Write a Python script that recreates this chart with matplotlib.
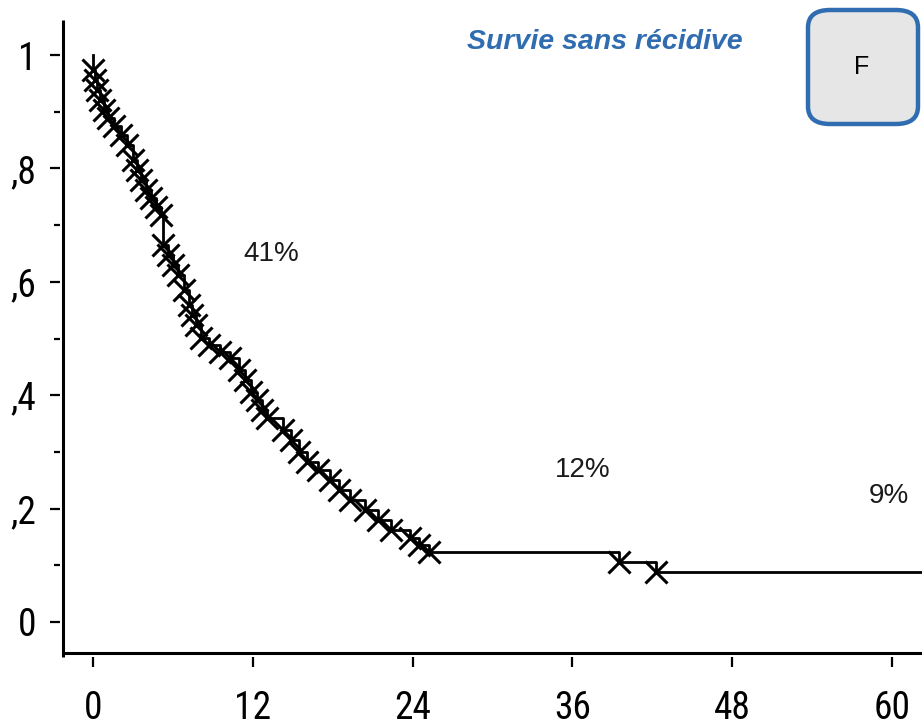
import matplotlib
matplotlib.use("Agg")
import matplotlib.pyplot as plt
import numpy as np
from matplotlib.patches import FancyBboxPatch
from matplotlib import font_manager

# ---- data ----
step_times = [0, 0, 0.15, 0.3, 0.53, 0.83, 1.13, 1.58, 2.1, 2.55, 3.0, 3.3, 3.6, 4.0, 4.35, 4.73,
              5.1, 5.26, 5.63, 6.0, 6.4, 6.83, 7.2, 7.43, 7.73, 8.1, 8.7, 9.5, 10.3, 11.0, 11.4,
              11.9, 12.3, 12.7, 13.1, 14.3, 14.9, 15.5, 16.1, 16.9, 17.8, 18.5, 19.3, 20.4, 21.4,
              22.4, 23.8, 24.5, 25.2, 39.5, 42.3]
step_surv = [1.0, 0.974, 0.956, 0.938, 0.921, 0.903, 0.889, 0.875, 0.859, 0.841, 0.815, 0.797,
             0.78, 0.762, 0.748, 0.732, 0.718, 0.665, 0.647, 0.63, 0.612, 0.586, 0.559, 0.541,
             0.524, 0.501, 0.489, 0.476, 0.466, 0.444, 0.427, 0.406, 0.392, 0.374, 0.36, 0.339,
             0.321, 0.3, 0.282, 0.268, 0.25, 0.233, 0.215, 0.198, 0.18, 0.162, 0.148, 0.136,
             0.123, 0.106, 0.088]
end_time = 62.3
censor_times = step_times[1:]

x_ticks = [0, 12, 24, 36, 48, 60]
y_ticks = [0, 0.2, 0.4, 0.6, 0.8, 1.0]
y_ticklabels = ["0", ",2", ",4", ",6", ",8", "1"]
y_minor = [0.1, 0.3, 0.5, 0.7, 0.9]

annotations = [("41%", 13.4, 0.649), ("12%", 36.8, 0.268), ("9%", 59.8, 0.222)]
title = "Survie sans récidive"
panel_label = "F"

# ---- fonts ----
names = {f.name for f in font_manager.fontManager.ttflist}
tick_kw = {"fontfamily": "DejaVu Sans", "fontstretch": "condensed"}
for cand in ["Liberation Sans Narrow", "Arial Narrow", "Roboto Condensed", "Open Sans Condensed"]:
    if cand in names:
        tick_kw = {"fontfamily": cand}
        break

W, H = 922, 726
fig = plt.figure(figsize=(W / 100, H / 100), dpi=100)
fig.patch.set_facecolor("white")

ax_l, ax_r, ax_t, ax_b = 60, 922, 20, 657
ax = fig.add_axes([ax_l / W, 1 - ax_b / H, (ax_r - ax_l) / W, (ax_b - ax_t) / H])

px_per_month = (892 - 93) / 60.0
px_per_unit = 622 - 55
xmin = -(93 - ax_l) / px_per_month
xmax = (ax_r - 93) / px_per_month
ymin = -(ax_b - 622) / px_per_unit
ymax = 1 + (55 - ax_t) / px_per_unit
ax.set_xlim(xmin, xmax)
ax.set_ylim(ymin, ymax)

# curve
xs = list(step_times) + [end_time]
ys = list(step_surv) + [step_surv[-1]]
ax.step(xs, ys, where="post", color="black", lw=2.0, zorder=3, clip_on=False)

# censor marks on the curve
st = np.array(step_times)
sv = np.array(step_surv)
cy = [sv[np.searchsorted(st, t, side="right") - 1] for t in censor_times]
ax.plot(censor_times, cy, ls="none", marker="x", ms=16, mew=2.2, color="black", zorder=4)

# spines drawn slightly inside so the ticks show a gap
for s in ax.spines.values():
    s.set_visible(False)
ax.plot([(63 - ax_l) / (ax_r - ax_l)] * 2, [0, 1], transform=ax.transAxes, color="black",
        lw=2.2, clip_on=False, solid_capstyle="butt")
ax.plot([(63 - ax_l) / (ax_r - ax_l), 1], [(ax_b - 653) / (ax_b - ax_t)] * 2,
        transform=ax.transAxes, color="black", lw=2.2, clip_on=False, solid_capstyle="butt")

ax.set_xticks(x_ticks)
ax.set_xticklabels([str(t) for t in x_ticks])
ax.set_yticks(y_ticks)
ax.set_yticklabels(y_ticklabels)
ax.set_yticks(y_minor, minor=True)
ax.tick_params(axis="x", direction="out", length=7, width=1.6, pad=17)
ax.tick_params(axis="y", which="major", direction="out", length=7, width=1.6, pad=10)
ax.tick_params(axis="y", which="minor", direction="out", length=4.5, width=1.6)
for lab in ax.get_xticklabels() + ax.get_yticklabels():
    lab.set(**tick_kw)
    lab.set_fontsize(27)

for txt, tx, ty in annotations:
    ax.text(tx, ty, txt, ha="center", va="center", fontsize=20, family="Liberation Sans",
            color="#1a1a1a")

fig.text(605 / W, 1 - 42 / H, title, ha="center", va="center", fontsize=20.5,
         family="Liberation Sans", fontweight="bold", fontstyle="italic", color="#2f6cb0")

box = FancyBboxPatch((808 / W, 1 - 124 / H), (918 - 808) / W, (124 - 10) / H,
                     boxstyle="round,pad=0,rounding_size=0.024", transform=fig.transFigure,
                     facecolor="#e6e6e6", edgecolor="#2f6cb0", lw=3.2, zorder=5)
fig.add_artist(box)
fig.text(862 / W, 1 - 67 / H, panel_label, ha="center", va="center", fontsize=18,
         family="Liberation Sans", color="black", zorder=6)

fig.savefig("out.png", dpi=100, facecolor="white")
